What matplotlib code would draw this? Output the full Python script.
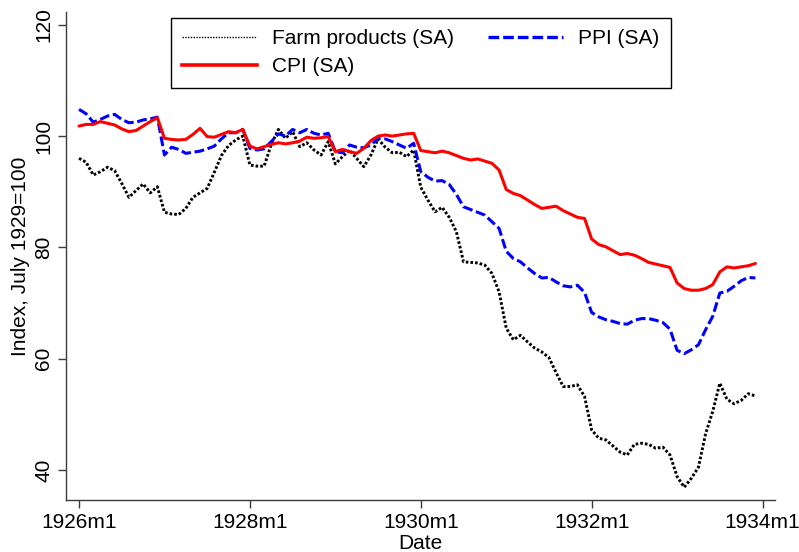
import numpy as np
import matplotlib
matplotlib.use('Agg')
import matplotlib.pyplot as plt
from matplotlib.lines import Line2D

# 月度数据，1926m1 - 1933m12（季节调整，1929年7月=100）
farm = [96.0, 95.3, 93.0, 93.6, 94.4, 93.8, 91.5, 89.0, 90.2, 91.4,
        89.8, 90.9, 86.3, 86.0, 85.9, 87.0, 89.0, 89.8, 90.6, 93.5,
        96.5, 98.3, 99.3, 100.0, 94.8, 94.6, 94.6, 98.5, 101.2, 99.6,
        100.8, 98.1, 98.8, 97.5, 96.6, 99.0, 95.0, 96.3, 97.5, 96.0,
        94.5, 96.6, 99.5, 98.0, 97.0, 97.1, 96.3, 97.5, 90.8, 88.5,
        86.4, 87.2, 85.4, 82.8, 77.4, 77.3, 77.2, 76.8, 75.3, 72.0,
        65.5, 63.4, 64.2, 63.0, 61.9, 61.2, 60.2, 57.5, 55.0, 55.0,
        55.3, 53.2, 47.2, 45.7, 45.4, 44.3, 43.2, 42.7, 44.6, 44.8,
        44.6, 43.9, 44.1, 42.7, 38.8, 36.9, 38.5, 40.5, 46.5, 50.5,
        55.6, 52.7, 51.9, 52.5, 53.7, 53.3]

ppi = [104.8, 104.0, 102.5, 103.0, 103.6, 103.9, 103.0, 102.4, 102.5, 102.9,
       103.1, 103.4, 96.6, 98.0, 97.6, 96.9, 97.1, 97.3, 97.7, 98.2,
       99.5, 100.6, 100.6, 101.2, 97.8, 97.5, 97.7, 99.0, 100.4, 100.0,
       101.2, 100.6, 101.2, 100.5, 100.2, 100.5, 97.2, 97.0, 98.4, 98.0,
       97.9, 98.4, 99.6, 99.5, 99.0, 98.4, 97.8, 98.7, 93.6, 92.6,
       91.9, 92.0, 91.3, 89.5, 87.3, 86.8, 86.3, 85.8, 84.6, 83.4,
       79.3, 78.0, 77.4, 76.3, 75.3, 74.5, 74.6, 73.8, 73.1, 72.9,
       73.2, 71.9, 68.3, 67.5, 67.0, 66.7, 66.3, 66.2, 66.9, 67.2,
       67.2, 66.9, 66.5, 65.3, 61.5, 60.9, 61.6, 62.5, 65.2, 67.6,
       71.8, 72.1, 73.0, 74.0, 74.6, 74.5]

cpi = [101.8, 102.1, 102.1, 102.6, 102.3, 102.0, 101.3, 100.8, 101.0, 101.8,
       102.6, 103.3, 99.6, 99.4, 99.3, 99.4, 100.3, 101.4, 99.9, 99.8,
       100.3, 100.8, 100.6, 101.2, 98.2, 97.7, 98.1, 98.5, 98.8, 98.6,
       98.8, 99.1, 99.8, 99.6, 99.7, 99.9, 97.2, 97.6, 97.2, 96.9,
       97.8, 99.2, 100.0, 100.2, 100.0, 100.2, 100.4, 100.5, 97.4, 97.2,
       97.0, 97.3, 97.0, 96.5, 96.0, 95.7, 95.9, 95.5, 95.1, 93.9,
       90.4, 89.7, 89.3, 88.5, 87.7, 87.0, 87.2, 87.4, 86.6, 86.0,
       85.4, 85.2, 81.5, 80.5, 80.1, 79.4, 78.7, 78.9, 78.6, 78.0,
       77.3, 77.0, 76.7, 76.4, 73.6, 72.6, 72.3, 72.3, 72.6, 73.3,
       75.6, 76.5, 76.3, 76.5, 76.7, 77.1]

x_tick_labels = ['1926m1', '1928m1', '1930m1', '1932m1', '1934m1']
y_ticks = [40, 60, 80, 100, 120]

months = np.arange(len(farm))

# ---- 字体与样式 ----
plt.rcParams['font.family'] = ['Liberation Sans', 'DejaVu Sans']
plt.rcParams['font.size'] = 15

axis_color = '#3c3c3c'

fig = plt.figure(figsize=(7.99, 5.52), dpi=100)
ax = fig.add_axes([66 / 799, 1 - 500 / 552, 709 / 799, 488 / 552])

ax.plot(months, farm, color='black', linewidth=2.1,
        linestyle=(0, (0.9, 0.7)), label='Farm products (SA)')
ax.plot(months, ppi, color='#0000ff', linewidth=2.2,
        linestyle=(0, (3.2, 1.2)), label='PPI (SA)')
ax.plot(months, cpi, color='#ff0000', linewidth=2.2,
        solid_capstyle='round', label='CPI (SA)')

ax.set_xlim(-1.83, 97.75)
ax.set_ylim(34.6, 122.3)
ax.set_xticks(np.arange(0, 97, 24))
ax.set_xticklabels(x_tick_labels)
ax.set_yticks(y_ticks)
ax.set_yticklabels([str(v) for v in y_ticks], rotation=90, va='center')

for side in ['top', 'right']:
    ax.spines[side].set_visible(False)
for side in ['left', 'bottom']:
    ax.spines[side].set_color(axis_color)
    ax.spines[side].set_linewidth(1.0)
ax.tick_params(length=5.8, width=1.0, color=axis_color, pad=3.5)

ax.set_xlabel('Date', labelpad=1.5)
ax.set_ylabel('Index, July 1929=100', labelpad=3)

# 图例：农产品线在图例里是细点线
handles = [
    Line2D([], [], color='black', linewidth=1.0, linestyle=(0, (1, 1))),
    Line2D([], [], color='#ff0000', linewidth=2.6),
    Line2D([], [], color='#0000ff', linewidth=2.4, linestyle=(0, (3.2, 1.2))),
]
labels = ['Farm products (SA)', 'CPI (SA)', 'PPI (SA)']
leg = fig.legend(handles, labels, ncol=2, loc='upper left',
                 bbox_to_anchor=(171 / 799, 1 - 18 / 552),
                 frameon=True, fancybox=False, edgecolor='black',
                 framealpha=1, borderpad=0.55, handlelength=3.6,
                 handletextpad=0.7, columnspacing=1.65, labelspacing=0.42,
                 borderaxespad=0)
leg.get_frame().set_linewidth(1.0)

fig.savefig('out.png', dpi=100, facecolor='white')
